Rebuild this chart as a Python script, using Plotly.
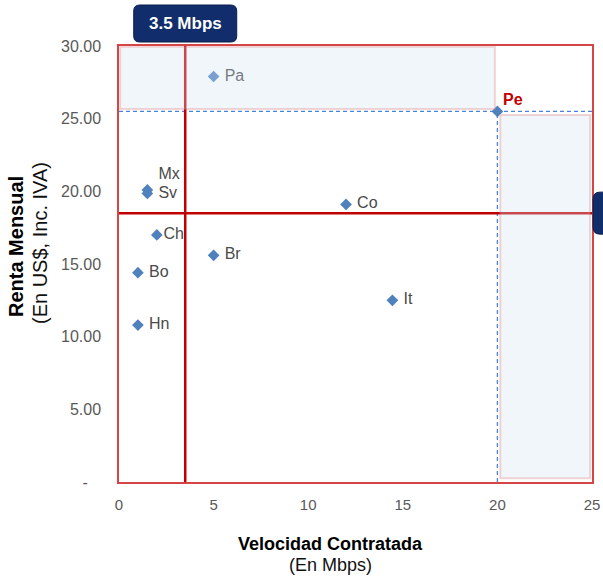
import plotly.graph_objects as go

# Velocidad contratada (Mbps) vs renta mensual (US$, inc. IVA) por país
paises = ["Pa", "Mx", "Sv", "Co", "Ch", "Br", "Bo", "It", "Hn"]
velocidad = [5.0, 1.5, 1.5, 12.0, 2.0, 5.0, 1.0, 14.45, 1.0]
renta = [27.9, 20.1, 19.85, 19.1, 17.0, 15.6, 14.4, 12.5, 10.8]
posicion_texto = ["middle right", "top right", "middle right", "middle right",
                  "middle right", "middle right", "middle right", "middle right",
                  "middle right"]

# Punto destacado
pais_ref = "Pe"
vel_ref = 20.0
renta_ref = 25.5

# Líneas de referencia
vel_umbral = 3.5
renta_umbral = 18.5
etiqueta_umbral = "3.5 Mbps"

x_ticks = [0, 5, 10, 15, 20, 25]
y_ticks = [0, 5, 10, 15, 20, 25, 30]
y_ticktext = ["-\u00a0\u00a0\u00a0"] + [f"{v:.2f}" for v in y_ticks[1:]]

X_MAX = 25
Y_MAX = 30

FONT = "Liberation Sans, Arial, sans-serif"
AZUL = "#4F81BD"
ROJO = "#C00000"
NAVY = "#112D6B"
GRIS = "#4A4A4A"

# Separación entre el marcador y su etiqueta
etiquetas = [("\u00a0" + p if p != "Ch" else p) for p in paises]

fig = go.Figure()

fig.add_trace(go.Scatter(
    x=velocidad, y=renta, mode="markers+text",
    text=etiquetas, textposition=posicion_texto,
    textfont=dict(family=FONT, size=16, color=GRIS),
    marker=dict(symbol="diamond", size=9, color=AZUL),
    hoverinfo="skip", showlegend=False,
))
fig.add_trace(go.Scatter(
    x=[vel_ref], y=[renta_ref], mode="markers",
    marker=dict(symbol="diamond", size=9, color=AZUL),
    hoverinfo="skip", showlegend=False,
))

shapes = []
# Líneas punteadas hacia el punto destacado
dash_line = dict(color="#4A84D4", width=1.3, dash="4px,3px")
shapes.append(dict(type="line", xref="x", yref="y", x0=0, x1=X_MAX,
                   y0=renta_ref, y1=renta_ref, line=dash_line, layer="below"))
shapes.append(dict(type="line", xref="x", yref="y", x0=vel_ref, x1=vel_ref,
                   y0=0, y1=renta_ref, line=dash_line, layer="below"))
# Líneas de umbral
shapes.append(dict(type="line", xref="x", yref="y", x0=vel_umbral, x1=vel_umbral,
                   y0=0, y1=Y_MAX, line=dict(color=ROJO, width=2.5), layer="below"))
shapes.append(dict(type="line", xref="x", yref="y", x0=0, x1=X_MAX,
                   y0=renta_umbral, y1=renta_umbral,
                   line=dict(color=ROJO, width=2.5), layer="below"))
# Zonas sombreadas (por encima y a la derecha del punto destacado)
banda = dict(fillcolor="rgba(213,228,244,0.32)",
             line=dict(color="rgba(220,120,120,0.3)", width=2), layer="above")
shapes.append(dict(type="rect", xref="x", yref="y", x0=0.06, x1=vel_ref - 0.13,
                   y0=renta_ref + 0.17, y1=Y_MAX - 0.06, **banda))
shapes.append(dict(type="rect", xref="x", yref="y", x0=vel_ref + 0.15, x1=X_MAX - 0.1,
                   y0=0.25, y1=renta_ref - 0.25, **banda))


def rounded_box(x0, x1, y0, y1, rx, ry):
    return (f"M {x0+rx},{y0} L {x1-rx},{y0} Q {x1},{y0} {x1},{y0+ry} "
            f"L {x1},{y1-ry} Q {x1},{y1} {x1-rx},{y1} L {x0+rx},{y1} "
            f"Q {x0},{y1} {x0},{y1-ry} L {x0},{y0+ry} Q {x0},{y0} {x0+rx},{y0} Z")


# Etiqueta del umbral de velocidad (coordenadas de papel)
W_PLOT = 603 - 119 - 11
H_PLOT = 579 - 46 - 97
cx = vel_umbral / X_MAX
half_w = 51.5 / W_PLOT
by0 = 1 + 4 / H_PLOT
by1 = 1 + 41 / H_PLOT
shapes.append(dict(type="path", xref="paper", yref="paper",
                   path=rounded_box(cx - half_w, cx + half_w, by0, by1,
                                    6 / W_PLOT, 6 / H_PLOT),
                   fillcolor=NAVY, line=dict(color="#0A1F4D", width=1)))
# Etiqueta del umbral de renta (sale por el borde derecho)
cy = renta_umbral / Y_MAX
half_h = 21 / H_PLOT
shapes.append(dict(type="path", xref="paper", yref="paper",
                   path=rounded_box(1 + 1 / W_PLOT, 1.25, cy - half_h, cy + half_h,
                                    7 / W_PLOT, 7 / H_PLOT),
                   fillcolor=NAVY, line=dict(color="#0A1F4D", width=1)))

annotations = [
    dict(x=cx, y=(by0 + by1) / 2, xref="paper", yref="paper", text=f"<b>{etiqueta_umbral}</b>",
         showarrow=False, font=dict(family=FONT, size=17, color="white"),
         xanchor="center", yanchor="middle"),
    dict(x=vel_ref, y=renta_ref, xref="x", yref="y", text=f"<b>{pais_ref}</b>",
         showarrow=False, font=dict(family=FONT, size=16, color=ROJO),
         xanchor="left", yanchor="middle", xshift=4, yshift=12),
    dict(x=(330 - 119) / W_PLOT, y=(482 - 544) / H_PLOT, xref="paper", yref="paper",
         text="<b>Velocidad Contratada</b>", showarrow=False,
         font=dict(family=FONT, size=18, color="black"),
         xanchor="center", yanchor="middle"),
    dict(x=(330 - 119) / W_PLOT, y=(482 - 565) / H_PLOT, xref="paper", yref="paper",
         text="(En Mbps)", showarrow=False,
         font=dict(family=FONT, size=18, color="#111111"),
         xanchor="center", yanchor="middle"),
    dict(x=(16 - 119) / W_PLOT, y=(482 - 247) / H_PLOT, xref="paper", yref="paper",
         text="<b>Renta Mensual</b>", showarrow=False, textangle=-90,
         font=dict(family=FONT, size=20, color="black"),
         xanchor="center", yanchor="middle"),
    dict(x=(40 - 119) / W_PLOT, y=(482 - 243) / H_PLOT, xref="paper", yref="paper",
         text="(En US$, Inc. IVA)", showarrow=False, textangle=-90,
         font=dict(family=FONT, size=20, color="#111111"),
         xanchor="center", yanchor="middle"),
]

fig.update_layout(
    width=603, height=579, autosize=False,
    margin=dict(l=119, r=11, t=46, b=97, pad=0),
    paper_bgcolor="white", plot_bgcolor="white",
    shapes=shapes, annotations=annotations,
    showlegend=False,
    xaxis=dict(range=[0, X_MAX], tickvals=x_ticks, showgrid=False, zeroline=False,
               showline=True, mirror=True, linecolor="#D64545", linewidth=1.5,
               ticks="", ticklabelstandoff=8, automargin=False,
               tickfont=dict(family=FONT, size=15, color="#595959")),
    yaxis=dict(range=[0, Y_MAX], tickvals=y_ticks, ticktext=y_ticktext,
               showgrid=False, zeroline=False,
               showline=True, mirror=True, linecolor="#D64545", linewidth=1.5,
               ticks="", ticklabelstandoff=13, automargin=False,
               tickfont=dict(family=FONT, size=16, color="#595959")),
)

fig.write_html("out.html")
